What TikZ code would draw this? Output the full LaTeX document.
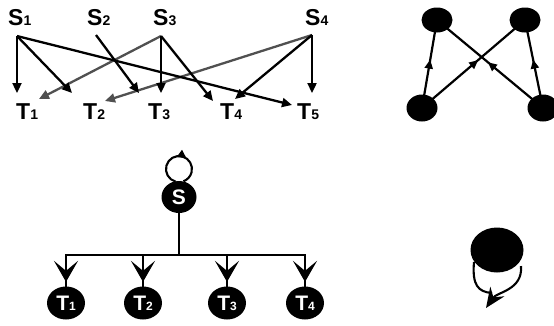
\documentclass[tikz,border=0pt]{standalone}
\usepackage{fontspec}
\setmainfont{Liberation Sans}
\usetikzlibrary{arrows.meta,decorations.markings,backgrounds,shapes.geometric}
\definecolor{grline}{HTML}{505050}
\newcommand\lbl[2]{#1{\fontsize{14}{14}\selectfont #2}}
\newcommand\nlbl[2]{#1{\fontsize{12}{12}\selectfont #2}}
\tikzset{
  lab/.style={anchor=base west, inner sep=0pt, font=\bfseries\fontsize{23}{23}\selectfont},
  tl/.style={line width=2.3pt, -{Triangle[length=10pt,width=9pt]}},
  blk/.style={ellipse, fill=black, inner sep=0pt, text=white, font=\bfseries\fontsize{21}{21}\selectfont},
  midarrow/.style={postaction={decorate}, decoration={markings, mark=at position #1 with {\arrow{Triangle[length=9pt,width=8pt]}}}},
  treearrow/.style={postaction={decorate}, decoration={markings, mark=at position #1 with {\arrow{Stealth[length=21pt,width=24pt,inset=10pt]}}}},
  loopline/.style={line width=2.1pt},
  treeline/.style={line width=2.7pt},
}
\begin{document}
\begin{tikzpicture}[x=1pt,y=-1pt]
\useasboundingbox (0,0) rectangle (554,325);
% ---------- top-left panel ----------
\node[lab] (S1) at (8,25) {\lbl{S}{1}};
\node[lab] (S2) at (87,25) {\lbl{S}{2}};
\node[lab] (S3) at (153,25) {\lbl{S}{3}};
\node[lab] (S4) at (305,25) {\lbl{S}{4}};
\node[lab] (T1) at (16,119) {\lbl{T}{1}};
\node[lab] (T2) at (83,119) {\lbl{T}{2}};
\node[lab] (T3) at (148,119) {\lbl{T}{3}};
\node[lab] (T4) at (220,119) {\lbl{T}{4}};
\node[lab] (T5) at (297,119) {\lbl{T}{5}};
\coordinate (s1) at (17,36);
\coordinate (s2) at (96,35);
\coordinate (s3) at (161,36);
\coordinate (s4) at (312,35);
\coordinate (e11) at (17,93);
\coordinate (e12) at (72,93);
\coordinate (e15) at (292,105);
\coordinate (e23) at (139,93);
\coordinate (e31) at (39,99);
\coordinate (e33) at (161,93);
\coordinate (e34) at (213,101);
\coordinate (e42) at (105,101);
\coordinate (e44) at (235,99);
\coordinate (e45) at (312,93);
\draw[tl,grline] (s3) -- (e31);
\draw[tl,grline] (s4) -- (e42);
\draw[tl] (s1) -- (e11);
\draw[tl] (s1) -- (e12);
\draw[tl] (s1) -- (e15);
\draw[tl] (s2) -- (e23);
\draw[tl] (s3) -- (e33);
\draw[tl] (s3) -- (e34);
\draw[tl] (s4) -- (e44);
\draw[tl] (s4) -- (e45);
% ---------- top-right panel ----------
\node[blk, minimum width=31pt, minimum height=25pt] (ra) at (437,20) {};
\node[blk, minimum width=31pt, minimum height=25pt] (rb) at (525,20) {};
\node[blk, minimum width=31pt, minimum height=27pt] (rc) at (422,108) {};
\node[blk, minimum width=31pt, minimum height=27pt] (rd) at (543,108) {};
\begin{scope}[on background layer]
\draw[line width=2.2pt, midarrow=0.55] (rc.center) -- (ra.center);
\draw[line width=2.2pt, midarrow=0.55] (rd.center) -- (rb.center);
\draw[line width=2.2pt, midarrow=0.545] (rc.center) -- (rb.center);
\draw[line width=2.2pt, midarrow=0.52] (rd.center) -- (ra.center);
\end{scope}
% ---------- bottom-left tree ----------
\node[blk, minimum width=35pt, minimum height=32pt] (S) at (179,197) {S};
\node[blk, minimum width=38pt, minimum height=33pt] (N1) at (66,303) {\nlbl{T}{1}};
\node[blk, minimum width=38pt, minimum height=33pt] (N2) at (143,303) {\nlbl{T}{2}};
\node[blk, minimum width=38pt, minimum height=33pt] (N3) at (227,303) {\nlbl{T}{3}};
\node[blk, minimum width=38pt, minimum height=33pt] (N4) at (305,303) {\nlbl{T}{4}};
\coordinate (hs) at (179,255);
\coordinate (h1) at (66,255);
\coordinate (h2) at (143,255);
\coordinate (h3) at (227,255);
\coordinate (h4) at (305,255);
\coordinate (sl) at (175.6,181.6);
\begin{scope}[on background layer]
\draw[loopline, postaction={decorate}, decoration={markings, mark=at position 0.62 with {\arrow{Triangle[length=9pt,width=8pt]}}}]
  (sl) arc[start angle=105, end angle=430, radius=13];
\draw[treeline] (S.center) -- (hs);
\draw[treeline, line cap=rect] (h1) -- (h4);
\draw[treeline, treearrow=0.56] (h1) -- (N1.center);
\draw[treeline, treearrow=0.56] (h2) -- (N2.center);
\draw[treeline, treearrow=0.56] (h3) -- (N3.center);
\draw[treeline, treearrow=0.56] (h4) -- (N4.center);
\end{scope}
% ---------- bottom-right ----------
\node[blk, minimum width=53pt, minimum height=45pt] (B) at (497,250) {};
\coordinate (bl) at (474,262);
\coordinate (br) at (521,266);
\coordinate (bj) at (492,293);
\coordinate (bt) at (486,308);
\begin{scope}[on background layer]
\draw[loopline, -{Stealth[length=20pt,width=17pt,inset=7pt]}] (br) .. controls (523,290) and (497,292) .. (bt);
\draw[loopline] (bl) .. controls (472,285) and (478,292) .. (bj);
\end{scope}
\end{tikzpicture}
\end{document}
